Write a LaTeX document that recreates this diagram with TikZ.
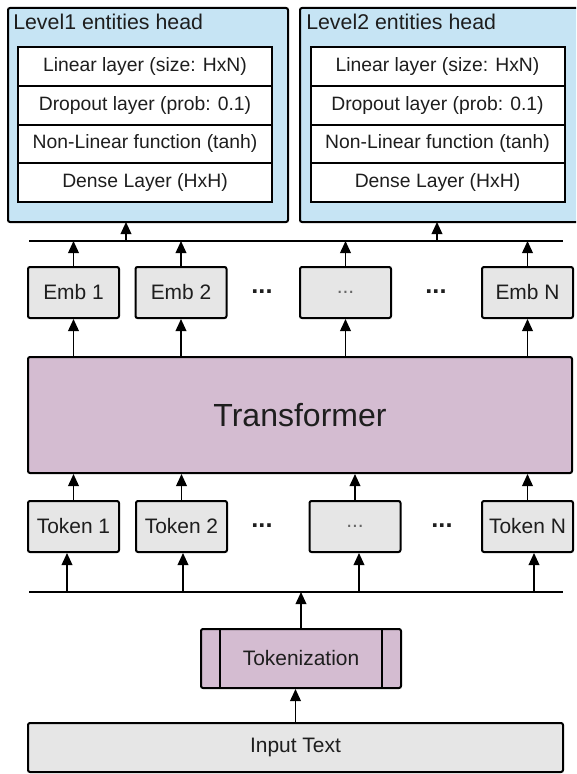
\documentclass[tikz,border=0pt]{standalone}
\usepackage{fontspec}
\setmainfont{Liberation Sans}
\usetikzlibrary{arrows.meta,positioning}

\definecolor{headblue}{RGB}{198,228,244}
\definecolor{tfpurple}{RGB}{212,188,209}
\definecolor{boxgray}{RGB}{230,230,230}
\definecolor{inkgray}{RGB}{30,30,30}

\tikzset{
  arr/.style={-{Triangle[length=9pt,width=8pt]}, line width=1.1pt},
  bus/.style={line width=1.7pt},
  headbox/.style={draw, line width=1.5pt, fill=headblue, rounded corners=1.5pt,
    minimum width=210pt, minimum height=160.5pt, outer sep=0pt},
  title/.style={font=\fontsize{16}{19}\selectfont, text=inkgray, inner sep=0pt},
  layer/.style={draw, line width=1.5pt, fill=white, minimum width=190.5pt,
    minimum height=29.06pt, outer sep=0pt, font=\fontsize{14.5}{17}\selectfont, text=inkgray},
  tokbox/.style={draw, line width=1.5pt, fill=boxgray, rounded corners=1.5pt,
    minimum width=68.25pt, minimum height=38.25pt, font=\fontsize{15.7}{18}\selectfont, text=inkgray},
  gap/.style={font=\fontsize{19}{20}\selectfont\bfseries, text=inkgray, inner sep=0pt},
}

\begin{document}
\begin{tikzpicture}[x=0.75pt,y=-0.75pt]
  \useasboundingbox (0,0) rectangle (576,774);
  \clip (0,0) rectangle (576,774);

  % heads
  \node[headbox] (head1) at (148,115) {};
  \node[headbox] (head2) at (440,115) {};
  \node[title, anchor=base west] (ttl1) at (13,30) {Level1 entities head};
  \node[title, anchor=base west] (ttl2) at (306,30) {Level2 entities head};

  % layers, head 1
  \node[layer] (lin1) at (145,66.4) {Linear layer (size: HxN)};
  \node[layer, below=0pt of lin1] (drop1) {Dropout layer (prob: 0.1)};
  \node[layer, below=0pt of drop1] (act1) {Non-Linear function (tanh)};
  \node[layer, below=0pt of act1] (dense1) {Dense Layer (HxH)};

  % layers, head 2
  \node[layer] (lin2) at (437.5,66.4) {Linear layer (size: HxN)};
  \node[layer, below=0pt of lin2] (drop2) {Dropout layer (prob: 0.1)};
  \node[layer, below=0pt of drop2] (act2) {Non-Linear function (tanh)};
  \node[layer, below=0pt of act2] (dense2) {Dense Layer (HxH)};

  % bus under the heads
  \coordinate (busA-l) at (29,241);
  \coordinate (busA-r) at (563,241);
  \draw[bus] (busA-l) -- (busA-r);
  \coordinate (in1) at (126,241);
  \coordinate (in2) at (437,241);
  \draw[arr] (in1) -- (in1 |- head1.south);
  \draw[arr] (in2) -- (in2 |- head2.south);

  % embeddings
  \node[tokbox] (emb1) at (73.5,292.5) {Emb 1};
  \node[tokbox] (emb2) at (181,292.5) {Emb 2};
  \node[tokbox, text=black!60] (emb3) at (345.5,292.5) {...};
  \node[tokbox] (embN) at (527.5,292.5) {Emb N};
  \node[gap] (dots1) at (262,292) {...};
  \node[gap] (dots2) at (436,292) {...};

  % transformer
  \node[draw, line width=1.5pt, fill=tfpurple, rounded corners=1.5pt,
    minimum width=408pt, minimum height=87pt,
    font=\fontsize{24}{28}\selectfont, text=inkgray] (tf) at (300,415) {Transformer};

  \foreach \e in {emb1,emb2,emb3,embN} {
    \draw[arr] (\e.north) -- (\e.north |- busA-l);
    \draw[arr] (\e.south |- tf.north) -- (\e.south);
  }

  % tokens
  \node[tokbox] (tok1) at (73.5,526.5) {Token 1};
  \node[tokbox] (tok2) at (181.5,526.5) {Token 2};
  \node[tokbox, text=black!60] (tok3) at (355,526.5) {...};
  \node[tokbox] (tokN) at (527.5,526.5) {Token N};
  \node[gap] (dots3) at (262,526) {...};
  \node[gap] (dots4) at (442,526) {...};

  \foreach \t in {tok1,tok2,tok3,tokN}
    \draw[arr] (\t.north) -- (\t.north |- tf.south);

  % bus over tokenization
  \coordinate (busB-l) at (29,592);
  \coordinate (busB-r) at (563,592);
  \draw[bus] (busB-l) -- (busB-r);
  \foreach \x/\t in {67/tok1,183/tok2,359/tok3,534/tokN} {
    \coordinate (b\t) at (\x,592);
    \draw[arr] (b\t) -- (b\t |- \t.south);
  }

  % tokenization
  \node[draw, line width=1.5pt, fill=tfpurple, rounded corners=1.5pt,
    minimum width=150pt, minimum height=44.25pt,
    font=\fontsize{15.7}{18}\selectfont, text=inkgray] (tkz) at (301,658.5) {Tokenization};
  \draw[line width=1.5pt] ([xshift=15pt]tkz.north west) -- ([xshift=15pt]tkz.south west);
  \draw[line width=1.5pt] ([xshift=-15pt]tkz.north east) -- ([xshift=-15pt]tkz.south east);
  \draw[arr] (tkz.north) -- (tkz.north |- busB-l);

  % input
  \node[draw, line width=1.5pt, fill=boxgray, rounded corners=1.5pt,
    minimum width=401.25pt, minimum height=36.75pt,
    font=\fontsize{15.7}{18}\selectfont, text=inkgray] (inp) at (295.5,747.5) {Input Text};
  \draw[arr] (inp.north) -- (inp.north |- tkz.south);
\end{tikzpicture}
\end{document}
